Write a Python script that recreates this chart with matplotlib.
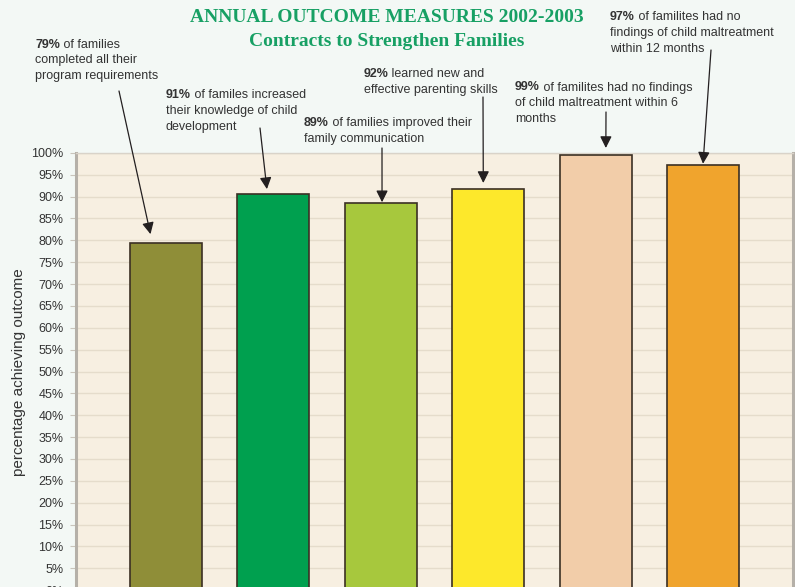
import numpy as np
import matplotlib
matplotlib.use('Agg')
import matplotlib.pyplot as plt

##------------data-----------------##
values = [79.4, 90.6, 88.5, 91.7, 99.4, 97.3]
bar_colors = ['#8f8e38', '#00a04f', '#a7c83d', '#fde82b', '#f2cda9', '#f0a42d']
pct_labels = ['79%', '91%', '89%', '92%', '99%', '97%']
note_lines = [
    [' of families', 'completed all their', 'program requirements'],
    [' of familes increased', 'their knowledge of child', 'development'],
    [' of families improved their', 'family communication'],
    [' learned new and', 'effective parenting skills'],
    [' of familites had no findings', 'of child maltreatment within 6', 'months'],
    [' of familites had no', 'findings of child maltreatment', 'within 12 months'],
]
yticks = np.arange(0, 101, 5)
title = 'ANNUAL OUTCOME MEASURES 2002-2003'
subtitle = 'Contracts to Strengthen Families'
ylabel = 'percentage achieving outcome'

##------------layout (pixels from top-left)-----------------##
W, H = 795, 587
note_pos = [(35, 47.5), (166, 98.5), (304, 126), (363.5, 76.7), (515, 90.5), (610, 20.5)]
arrow_start = [(119, 91), (260, 128), (382, 148), (483, 97), (606, 112), (711, 50)]
tip_dx = [-0.14, -0.057, 0.014, -0.044, 0.096, 0.0]
tip_dy = [2.0, 1.1, 0.2, 1.4, 1.7, 0.2]
line_step = 15.9

txt_color = '#333333'
plt.rcParams['font.family'] = ['Liberation Sans', 'DejaVu Sans']

fig = plt.figure(figsize=(W / 100, H / 100), dpi=100)
fig.patch.set_facecolor('#f3f8f5')

ax_l, ax_r, ax_t, ax_b = 76, 793, 152.8, 590.2
ax = fig.add_axes([ax_l / W, (H - ax_b) / H, (ax_r - ax_l) / W, (ax_b - ax_t) / H])
ax.set_facecolor('#f7efe1')

x = np.arange(len(values))
ax.bar(x, values, width=0.67, color=bar_colors, edgecolor='#3b3024', linewidth=1.2, zorder=3)

ax.set_xlim(-0.833, 5.837)
ax.set_ylim(0, 100)
ax.set_yticks(yticks)
ax.set_yticklabels(['%d%%' % t for t in yticks], fontsize=9, color=txt_color)
ax.set_xticks([])
ax.tick_params(axis='y', length=4, color='#c9c4bb', pad=5)
ax.yaxis.grid(True, color='#e5dccb', linewidth=1)
ax.set_axisbelow(True)

for s in ['left', 'right']:
    ax.spines[s].set_color('#b5b0a8')
    ax.spines[s].set_linewidth(2.2)
ax.spines['top'].set_color('#d9d3c9')
ax.spines['top'].set_linewidth(1)
ax.spines['bottom'].set_visible(False)

def fpx(px, py):
    return (px, H - py)

# titles
fig.text(387 / W, 1 - 18 / H, title, ha='center', va='center', family='Liberation Serif',
         fontsize=14, fontweight='bold', color='#17a064')
fig.text(387 / W, 1 - 41.5 / H, subtitle, ha='center', va='center', family='Liberation Serif',
         fontsize=14, fontweight='bold', color='#17a064')

fig.text(19 / W, 1 - 372 / H, ylabel, ha='center', va='center', rotation=90,
         fontsize=11, color=txt_color)

# notes and arrows
for i in range(len(values)):
    nx, ny = note_pos[i]
    lines = note_lines[i]
    b = ax.annotate(pct_labels[i], xy=fpx(nx, ny), xycoords='figure pixels',
                    fontsize=9, fontweight='bold', color=txt_color, va='baseline',
                    annotation_clip=False)
    ax.annotate(lines[0], xy=(1, 0), xycoords=b, fontsize=9, color=txt_color,
                va='bottom', annotation_clip=False)
    for k, ln in enumerate(lines[1:]):
        ax.annotate(ln, xy=fpx(nx, ny + (k + 1) * line_step), xycoords='figure pixels',
                    fontsize=9, color=txt_color, va='baseline', annotation_clip=False)
    ax.annotate('', xy=(x[i] + tip_dx[i], values[i] + tip_dy[i]), xycoords='data',
                xytext=fpx(*arrow_start[i]), textcoords='figure pixels',
                arrowprops=dict(arrowstyle='-|>,head_length=0.5,head_width=0.25',
                                mutation_scale=14, lw=0.9, color='#231f20',
                                shrinkA=0, shrinkB=0),
                annotation_clip=False, zorder=5)

fig.savefig('out.png', dpi=100, facecolor=fig.get_facecolor())
